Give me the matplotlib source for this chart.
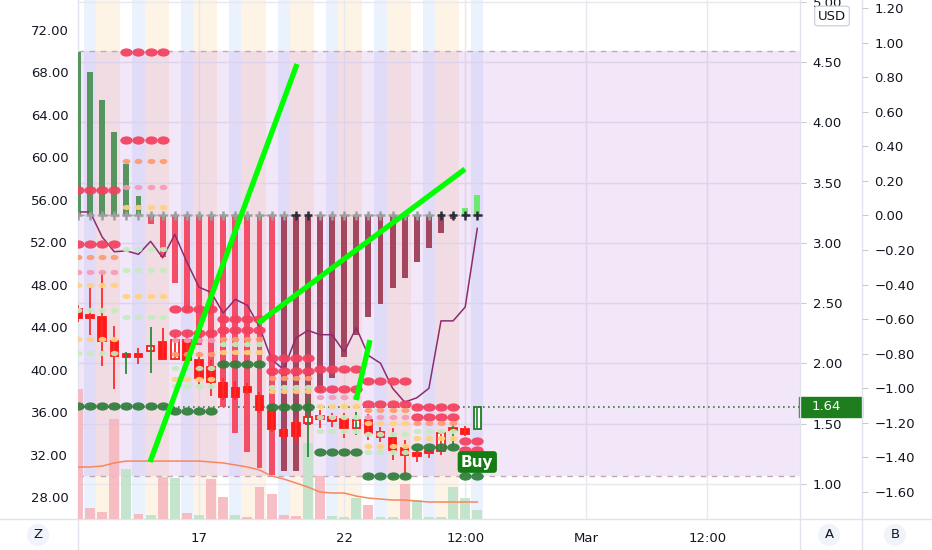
import numpy as np
import matplotlib
matplotlib.use("Agg")
import matplotlib.pyplot as plt
from matplotlib.path import Path
from matplotlib.transforms import Affine2D, blended_transform_factory
from matplotlib.lines import Line2D
from matplotlib.patches import Rectangle
from matplotlib.ticker import FuncFormatter

# candles (left price scale)
opens  = [45.71, 45.15, 44.96, 42.70, 41.47, 41.47, 41.76, 42.60, 41.00, 42.79,
          40.91, 40.25, 38.74, 38.27, 38.37, 37.52, 36.10, 34.31, 34.97, 34.97,
          35.63, 35.54, 35.35, 34.50, 35.26, 34.13, 33.56, 32.62, 32.15, 32.34,
          32.34, 34.50, 34.41, 34.41]
highs  = [46.10, 47.79, 49.19, 44.11, 41.66, 42.04, 44.02, 43.92, 43.26, 43.55,
          41.66, 40.91, 39.21, 38.93, 38.74, 37.89, 36.39, 34.50, 35.54, 37.42,
          36.20, 35.92, 35.92, 36.01, 35.82, 34.60, 34.50, 33.37, 32.43, 32.52,
          34.31, 34.88, 34.69, 36.58]
lows   = [44.50, 43.26, 40.34, 38.18, 39.59, 40.53, 39.68, 40.91, 40.91, 40.44,
          38.55, 37.52, 37.14, 37.14, 37.71, 35.92, 34.13, 33.37, 33.09, 31.77,
          34.50, 34.60, 33.56, 33.84, 33.37, 33.18, 31.49, 30.26, 31.30, 31.68,
          31.96, 32.71, 33.75, 34.31]
closes = [44.87, 44.87, 42.70, 41.29, 41.19, 41.19, 42.23, 41.00, 42.79, 40.91,
          39.21, 38.84, 37.42, 37.42, 37.89, 36.20, 34.41, 33.75, 33.75, 35.54,
          35.35, 35.16, 34.50, 35.26, 34.03, 33.65, 32.43, 31.96, 31.86, 32.15,
          34.03, 34.31, 33.94, 36.48]
green_candles = [33]
green_wicks = [4, 6, 19, 23, 31, 33]

# lower orange line (price scale)
lower_line = [30.83, 30.83, 30.92, 31.21, 31.39, 31.39, 31.39, 31.39, 31.39, 31.39,
              31.39, 31.30, 31.21, 31.02, 30.83, 30.55, 29.98, 29.70, 29.32, 28.94,
              28.47, 28.38, 28.38, 28.09, 27.90, 27.81, 27.72, 27.72, 27.62, 27.53,
              27.53, 27.53, 27.53, 27.53]

# volume
volume = [130, 11, 7, 100, 50, 5, 4, 42, 41, 6, 4, 40, 22, 4, 2, 32, 25, 4, 3, 76,
          43, 3, 2, 21, 14, 2, 2, 35, 19, 2, 2, 32, 21, 9]
vol_green = [4, 6, 8, 10, 13, 19, 21, 22, 23, 25, 26, 28, 29, 30, 31, 32, 33]

# oscillator (scale B)
hist = [0.945, 0.83, 0.668, 0.483, 0.297, 0.112, -0.05, -0.24, -0.39, -0.56,
        -0.75, -0.95, -1.11, -1.26, -1.37, -1.46, -1.50, -1.48, -1.48, -1.21,
        -1.02, -0.94, -0.82, -0.69, -0.59, -0.51, -0.42, -0.36, -0.27, -0.19,
        -0.10, -0.02, 0.04, 0.12]
signal = [0.02, 0.02, -0.125, -0.21, -0.205, -0.225, -0.15, -0.245, -0.11, -0.27,
          -0.415, -0.445, -0.565, -0.485, -0.52, -0.645, -0.835, -0.89, -0.71, -0.665,
          -0.69, -0.69, -0.79, -0.65, -0.81, -0.855, -1.0, -1.08, -1.055, -1.0,
          -0.61, -0.61, -0.53, -0.075]
cross_dark = [18, 19, 30, 31, 32, 33]

# dotted price levels: first bar, last bar, price, kind
lvl_start = [0, 0, 0, 0, 0, 0, 0, 0, 0,
             4, 4, 4, 4, 4, 4, 4, 4, 4,
             8, 8, 8, 8, 8, 8, 8, 8,
             12, 12, 12, 12, 12, 12,
             16, 16, 16, 16, 16, 16,
             20, 20, 20, 20, 20, 20, 20,
             24, 24, 24, 24, 24, 24, 24, 24, 24,
             28, 28, 28, 28, 28, 28,
             32, 32, 32]
lvl_end   = [3, 3, 3, 3, 3, 3, 3, 3, 7,
             7, 7, 7, 7, 7, 7, 7, 7, 7,
             11, 11, 11, 11, 11, 11, 11, 11,
             15, 15, 15, 15, 15, 15,
             19, 19, 19, 19, 19, 19,
             23, 23, 23, 23, 23, 23, 23,
             27, 27, 27, 27, 27, 27, 27, 27, 27,
             31, 31, 31, 31, 31, 31,
             33, 33, 33]
lvl_price = [56.93, 51.84, 50.6, 49.2, 47.97, 45.6, 42.9, 41.6, 36.58,
             69.93, 61.64, 59.66, 57.2, 55.3, 51.37, 49.39, 46.94, 44.96,
             45.71, 43.45, 42.75, 41.5, 40.2, 39.1, 38.5, 36.1,
             44.77, 43.74, 42.9, 42.4, 41.65, 40.53,
             41.1, 39.88, 39.2, 38.4, 38.0, 36.48,
             40.06, 38.18, 37.4, 36.6, 35.5, 34.2, 32.24,
             38.93, 36.76, 36.2, 35.5, 35.0, 33.9, 32.8, 32.2, 29.98,
             36.48, 35.54, 34.97, 34.2, 33.6, 32.71,
             33.3, 32.4, 29.98]
lvl_kind = ["R", "R", "o", "p", "y", "g", "y", "g", "G",
            "R", "R", "o", "p", "y", "g", "g", "y", "g",
            "R", "R", "p", "o", "g", "y", "g", "G",
            "R", "R", "o", "g", "y", "G",
            "R", "R", "o", "g", "y", "G",
            "R", "R", "p", "y", "g", "g", "G",
            "R", "R", "o", "p", "y", "g", "y", "g", "G",
            "R", "R", "o", "g", "y", "G",
            "R", "R", "G"]

# hand drawn trend lines (bar index, price)
trend_x0 = [5.95, 14.88, 22.98]
trend_y0 = [31.30, 44.39, 37.14]
trend_x1 = [18.1, 31.98, 24.13]
trend_y1 = [68.80, 58.90, 42.79]

band_low, band_high = 30, 70
last_value = 1.64
buy_price = 31.3
x_ticks = [10, 22, 32, 42, 52]
x_labels = ["17", "22", "12:00", "Mar", "12:00"]

# ---------------------------------------------------------------
W, H = 932, 550
plt.rcParams['font.family'] = ['DejaVu Sans']
fig = plt.figure(figsize=(W / 100, H / 100), dpi=100)
rect = [78 / W, 31 / H, 722 / W, 519 / H]
txt = '#131722'
n = len(closes)
idx = np.arange(n)

# base layer: scale A, stripes, grid
axA = fig.add_axes(rect, zorder=0)
axA.set_xlim(0, 59.67)
axA.set_ylim(0.71, 5.014)
stripe_cols = ['#ffffff', '#eaf3fd', '#fef4e6', '#fef4e6']
for i in idx:
    axA.axvspan(i - 0.5, i + 0.5, color=stripe_cols[i % 4], lw=0)
axA.set_yticks(np.arange(1.0, 5.01, 0.5))
axA.yaxis.set_major_formatter(FuncFormatter(lambda v, _: f"{v:.2f}"))
axA.yaxis.tick_right()
axA.tick_params(axis='y', length=4, color='#c8cbd3', labelcolor=txt, labelsize=9.5, pad=5)
axA.set_xticks(x_ticks)
axA.set_xticklabels(x_labels)
axA.tick_params(axis='x', length=0, labelcolor=txt, labelsize=9.5, pad=9)
axA.grid(color='#e8e8ee', lw=1)
for s in axA.spines.values():
    s.set_visible(False)
axA.axhline(last_value, color='#1e7e1e', ls=(0, (1, 2)), lw=1.2)
tr = blended_transform_factory(axA.transAxes, axA.transData)
axA.add_patch(Rectangle((721 / 722, last_value - 0.082), 63 / 722, 0.164, transform=tr,
                        color='#1e7e1e', clip_on=False, zorder=10))
axA.text(734 / 722, last_value, '1.64', transform=tr, color='white',
         fontsize=9.5, va='center', ha='left', zorder=11)

# band layer (price scale)
axBand = fig.add_axes(rect, sharex=axA, zorder=1)
axBand.patch.set_visible(False)
axBand.set_ylim(25.93, 74.83)
axBand.axhspan(band_low, band_high, color='#b36be0', alpha=0.17, lw=0)
for lv in (band_low, band_high):
    axBand.axhline(lv, color='#c4a6b8', ls=(0, (4, 4)), lw=1)
axBand.axis('off')

# volume layer
axV = fig.add_axes(rect, sharex=axA, zorder=2)
axV.patch.set_visible(False)
vcols = ['#bfe2c9' if i in vol_green else '#f6b7bf' for i in idx]
axV.bar(idx, volume, width=0.82, color=vcols, alpha=0.9, lw=0)
axV.set_ylim(0, max(volume) * 3.99)
axV.axis('off')

# oscillator layer (scale B)
axB = fig.add_axes(rect, sharex=axA, zorder=3)
axB.patch.set_visible(False)
axB.set_ylim(-1.756, 1.246)
hcols = []
for i, v in enumerate(hist):
    rising = i > 0 and v >= hist[i - 1]
    if v >= 0:
        hcols.append('#6ee86e' if rising else '#56955f')
    else:
        hcols.append('#a4465f' if rising else '#f34d68')
axB.hlines(0, -0.5, n - 0.5, color='#b0b0b0', ls=(0, (3, 3)), lw=1)
axB.bar(idx, hist, width=0.48, color=hcols, lw=0)
axB.plot(idx, signal, color='#8b2c6f', lw=1.1)
ccols = ['#2a2e39' if i in cross_dark else '#9e9e9e' for i in idx]
axB.scatter(idx, np.zeros(n), marker='+', s=40, c=ccols, linewidths=1.8, zorder=5)
axB.set_yticks(np.arange(-1.6, 1.21, 0.2))
axB.yaxis.set_major_formatter(FuncFormatter(
    lambda v, _: f"{v + 0.0:.2f}".replace('-0.00', '0.00').replace('-', '\u2212')))
axB.yaxis.tick_right()
axB.spines['right'].set_position(('outward', 44.6))
axB.tick_params(axis='y', length=4, color='#c8cbd3', labelcolor=txt, labelsize=9.5, pad=5)
axB.tick_params(axis='x', bottom=False, labelbottom=False)
for s in axB.spines.values():
    s.set_visible(False)

# price layer
ax = fig.add_axes(rect, sharex=axA, sharey=axBand, zorder=4)
ax.patch.set_visible(False)
ax.set_yticks(np.arange(28, 72.1, 4))
ax.yaxis.set_major_formatter(FuncFormatter(lambda v, _: f"{v:.2f}"))
ax.yaxis.tick_left()
ax.tick_params(axis='y', length=0, labelcolor=txt, labelsize=9.5, pad=7)
ax.tick_params(axis='x', bottom=False, labelbottom=False)
for s in ax.spines.values():
    s.set_visible(False)

ax.plot(idx, lower_line, color='#f7875f', lw=1.1)

wcols = ['#2e8b3a' if i in green_wicks else '#ff2a2a' for i in idx]
ax.vlines(idx, lows, highs, colors=wcols, lw=1.3)
o = np.array(opens)
c = np.array(closes)
bottoms = np.minimum(o, c)
heights = np.maximum(np.abs(c - o), 0.15)
edge = ['#1e7e1e' if i in green_candles else '#ff1a1a' for i in idx]
face = ['white' if c[i] > o[i] else '#ff1a1a' for i in idx]
ax.bar(idx, heights, bottom=bottoms, width=0.62, color=face, edgecolor=edge, lw=1.3)

ell = Path.unit_circle().transformed(Affine2D().scale(1.5, 1.0))
dot_col = {'R': '#f43f5e', 'G': '#2f7d3a', 'o': '#ff9a70', 'p': '#f59ab8',
           'y': '#ffd27a', 'g': '#c5ecc0'}
for a, b, p, k in zip(lvl_start, lvl_end, lvl_price, lvl_kind):
    xs = np.arange(a, b + 1)
    big = k in 'RG'
    ax.scatter(xs, np.full(len(xs), p), marker=ell, s=80 if big else 32,
               color=dot_col[k], alpha=0.92, lw=0, zorder=4)

for x0, y0, x1, y1 in zip(trend_x0, trend_y0, trend_x1, trend_y1):
    ax.plot([x0, x1], [y0, y1], color='#00ff00', lw=3.8, solid_capstyle='butt', zorder=6)

ax.text(n - 1, buy_price, 'Buy', ha='center', va='center', color='white',
        fontsize=11, fontweight='bold', zorder=7,
        bbox=dict(boxstyle='round,pad=0.22', fc='#137c13', ec='none'))

# frame lines and scale buttons
sep = '#e0e3eb'
for xp in (78, 800, 862):
    fig.add_artist(Line2D([xp / W, xp / W], [0, 1], transform=fig.transFigure, color=sep, lw=1))
fig.add_artist(Line2D([0, 1], [31 / H, 31 / H], transform=fig.transFigure, color=sep, lw=1))

fig.text(832 / W, 1 - 16 / H, 'USD', ha='center', va='center', fontsize=9.5, color=txt,
         bbox=dict(boxstyle='round,pad=0.25', fc='white', ec='#d1d4dc', lw=1))
for xp, lab in ((38, 'Z'), (829, 'A'), (895, 'B')):
    fig.text(xp / W, 1 - 535 / H, lab, ha='center', va='center', fontsize=9.5, color=txt,
             bbox=dict(boxstyle='circle,pad=0.35', fc='#f0f3fa', ec='none'))

fig.savefig('out.png', dpi=100)
